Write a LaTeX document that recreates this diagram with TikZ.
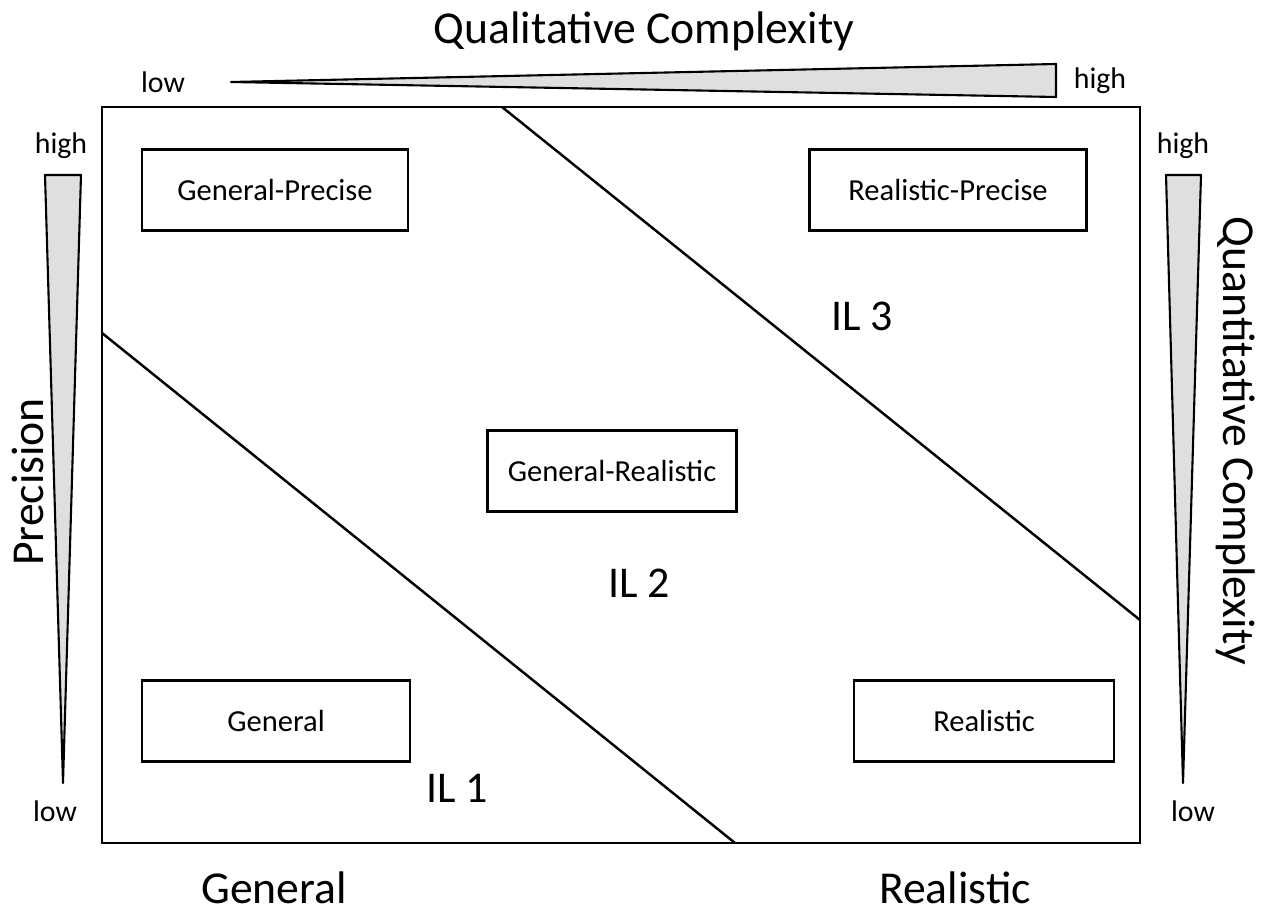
\documentclass[tikz,border=0pt]{standalone}
\usepackage{fontspec}
\setmainfont{Carlito}
\begin{document}
\begin{tikzpicture}[
  x=0.02cm, y=-0.02cm,
  cell/.style={rectangle, draw, line width=1.4pt, minimum height=1.62cm, font=\fontsize{17.4}{20}\selectfont},
  edge/.style={line width=1.4pt},
  wedge/.style={draw, line width=1.2pt, fill=gray!25, line join=round},
  tick/.style={font=\fontsize{17}{20}\selectfont},
  axis/.style={font=\fontsize{26}{30}\selectfont},
  level/.style={font=\fontsize{25}{29}\selectfont},
]
  \useasboundingbox (0,0) rectangle (1273,915);

  % frame and the two level borders
  \draw[edge] (102,107) rectangle (1140,843);
  \coordinate (a1) at (102,333);
  \coordinate (a2) at (735,843);
  \coordinate (b1) at (502,107);
  \coordinate (b2) at (1140,620);
  \draw[edge] (a1) -- (a2);
  \draw[edge] (b1) -- (b2);

  % the five model types
  \node[cell, minimum width=5.32cm] (gp) at (275,190) {General-Precise};
  \node[cell, minimum width=5.54cm] (rp) at (948,190) {Realistic-Precise};
  \node[cell, minimum width=4.98cm] (gr) at (612,471) {General-Realistic};
  \node[cell, minimum width=5.36cm] (g) at (276,721) {General};
  \node[cell, minimum width=5.20cm] (r) at (984,721) {Realistic};

  \node[level] (il1) at (457,788) {IL 1};
  \node[level] (il2) at (639,583) {IL 2};
  \node[level] (il3) at (862,316) {IL 3};

  % qualitative axis
  \draw[wedge] (231,82) -- (1056,64) -- (1056,97) -- cycle;
  \node[axis] (qual) at (644,31) {Qualitative Complexity};
  \node[tick] (qlow) at (163,82) {low};
  \node[tick] (qhigh) at (1100,81) {high};

  % precision axis
  \draw[wedge] (45,175) -- (81,175) -- (63,783) -- cycle;
  \node[axis, rotate=90] (prec) at (28,482) {Precision};
  \node[tick] (plow) at (55,811) {low};
  \node[tick] (phigh) at (61,146) {high};

  % quantitative axis
  \draw[wedge] (1166,175) -- (1201,175) -- (1183,783) -- cycle;
  \node[axis, rotate=-90] (quan) at (1236,441) {Quantitative Complexity};
  \node[tick] (nlow) at (1193,811) {low};
  \node[tick] (nhigh) at (1183,146) {high};

  \node[axis] (gen) at (274,888) {General};
  \node[axis] (real) at (955,888) {Realistic};
\end{tikzpicture}
\end{document}
